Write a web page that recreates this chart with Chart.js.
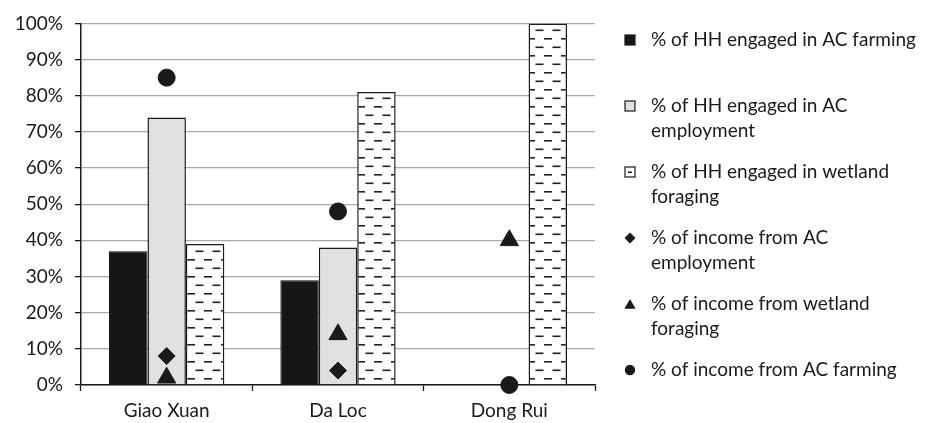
<!DOCTYPE html>
<html>
<head>
<meta charset="utf-8">
<script src="https://cdn.jsdelivr.net/npm/chart.js@4/dist/chart.umd.min.js"></script>
<style>
html,body{margin:0;padding:0;background:#ffffff;}
#wrap{width:933px;height:423px;position:relative;}
</style>
</head>
<body>
<div id="wrap"><canvas id="c" width="933" height="423"></canvas></div>
<script>
// ---- data ----
const categories = ['Giao Xuan', 'Da Loc', 'Dong Rui'];
const hhFarming = [37, 29, 0];
const hhEmployment = [74, 38, 0];
const hhForaging = [39, 81, 100];
const incEmployment = [8, 4, null];
const incForaging = [2, 14, 40];
const incFarming = [85, 48, 0];
const yTickValues = [0, 10, 20, 30, 40, 50, 60, 70, 80, 90, 100];
const seriesNames = [
  '% of HH engaged in AC farming',
  '% of HH engaged in AC employment',
  '% of HH engaged in wetland foraging',
  '% of income from AC employment',
  '% of income from wetland foraging',
  '% of income from AC farming'
];
const legendLines = [
  ['% of HH engaged in AC farming'],
  ['% of HH engaged in AC', 'employment'],
  ['% of HH engaged in wetland', 'foraging'],
  ['% of income from AC', 'employment'],
  ['% of income from wetland', 'foraging'],
  ['% of income from AC farming']
];

// ---- styles ----
const FONT = 'Lato';
const FONT_SIZE = 19;
const INK = '#1a1a1a';

const canvas = document.getElementById('c');
const ctx = canvas.getContext('2d');

function makeDashPattern() {
  const t = document.createElement('canvas');
  t.width = 17; t.height = 17;
  const g = t.getContext('2d');
  g.fillStyle = '#ffffff';
  g.fillRect(0, 0, 17, 17);
  g.fillStyle = '#222222';
  g.fillRect(0, 4, 8, 1.6);
  g.fillRect(8.5, 12.5, 8, 1.6);
  return ctx.createPattern(t, 'repeat');
}
const dashPattern = makeDashPattern();

const styles = [
  {kind: 'bar', fill: '#161616', border: '#111111', bw: 1},
  {kind: 'bar', fill: '#e0e0e0', border: INK, bw: 1.5},
  {kind: 'bar', fill: dashPattern, border: INK, bw: 1.5, patterned: true},
  {kind: 'point', shape: 'rectRot', r: 8.5, lr: 5.5},
  {kind: 'point', shape: 'triangle', r: 10.5, lr: 6.5},
  {kind: 'point', shape: 'circle', r: 8.5, lr: 5.2}
];
const seriesData = [hhFarming, hhEmployment, hhForaging, incEmployment, incForaging, incFarming];

const datasets = seriesData.map((d, i) => {
  const s = styles[i];
  if (s.kind === 'bar') {
    return {
      type: 'bar', label: seriesNames[i], data: d,
      backgroundColor: s.fill, borderColor: s.border, borderWidth: s.bw,
      borderSkipped: 'start', order: 10,
      categoryPercentage: 0.673, barPercentage: 1.0
    };
  }
  return {
    type: 'line', label: seriesNames[i], data: d, showLine: false,
    pointStyle: s.shape, pointRadius: s.r, pointHoverRadius: s.r,
    pointBackgroundColor: INK, pointBorderColor: INK, pointBorderWidth: 1,
    borderColor: INK, backgroundColor: INK,
    order: i === 5 ? 1 : 2, clip: false
  };
});

function drawShape(c, shape, x, y, r) {
  c.beginPath();
  if (shape === 'circle') {
    c.arc(x, y, r, 0, Math.PI * 2);
  } else if (shape === 'rectRot') {
    c.moveTo(x - r, y); c.lineTo(x, y - r); c.lineTo(x + r, y); c.lineTo(x, y + r);
    c.closePath();
  } else if (shape === 'triangle') {
    const a = Math.PI * 2 / 3;
    c.moveTo(x, y - r);
    c.lineTo(x + Math.sin(a) * r, y - Math.cos(a) * r);
    c.lineTo(x + Math.sin(2 * a) * r, y - Math.cos(2 * a) * r);
    c.closePath();
  }
  c.fill();
}

const sideLegend = {
  id: 'sideLegend',
  afterDraw(chart) {
    const c = chart.ctx;
    const markerX = 630, textX = 651, top = 40, gap = 66, lineGap = 25;
    c.save();
    c.font = FONT_SIZE + 'px ' + FONT;
    c.textBaseline = 'middle';
    c.textAlign = 'left';
    legendLines.forEach((lines, i) => {
      const y = top + i * gap;
      const s = styles[i];
      if (s.kind === 'bar') {
        c.fillStyle = s.patterned ? '#ffffff' : s.fill;
        c.fillRect(markerX - 5, y - 5, 10, 10);
        c.strokeStyle = INK; c.lineWidth = 1.2;
        c.strokeRect(markerX - 5, y - 5, 10, 10);
        if (s.patterned) { c.fillStyle = INK; c.fillRect(markerX - 2, y - 0.5, 4, 1.5); }
      } else {
        c.fillStyle = INK;
        drawShape(c, s.shape, markerX, s.shape === 'triangle' ? y + 1.5 : y, s.lr);
      }
      c.fillStyle = INK;
      lines.forEach((t, j) => c.fillText(t, textX, y + j * lineGap));
    });
    c.restore();
  }
};

new Chart(ctx, {
  type: 'bar',
  data: {labels: categories, datasets: datasets},
  options: {
    responsive: false,
    animation: false,
    devicePixelRatio: 1,
    layout: {padding: {left: 0, top: 20, right: 338, bottom: 0}},
    plugins: {legend: {display: false}, tooltip: {enabled: false}},
    events: [],
    scales: {
      x: {
        grid: {display: true, drawOnChartArea: false, drawTicks: true, tickLength: 6, tickColor: INK, tickWidth: 1.3, offset: true},
        border: {display: true, color: INK, width: 1.5},
        ticks: {font: {family: FONT, size: FONT_SIZE}, color: INK, padding: 8, maxRotation: 0},
        afterFit(s) { s.height = 38; }
      },
      y: {
        min: 0, max: 100,
        afterBuildTicks(s) { s.ticks = yTickValues.map(v => ({value: v})); },
        ticks: {font: {family: FONT, size: FONT_SIZE}, color: INK, padding: 12, callback: v => v + '%'},
        grid: {color: '#a8a8a8', lineWidth: 1.3, tickColor: INK, tickLength: 6, tickWidth: 1.3},
        border: {display: true, color: INK, width: 1.5},
        afterFit(s) { s.width = 81; }
      }
    }
  },
  plugins: [sideLegend]
});
</script>
</body>
</html>
